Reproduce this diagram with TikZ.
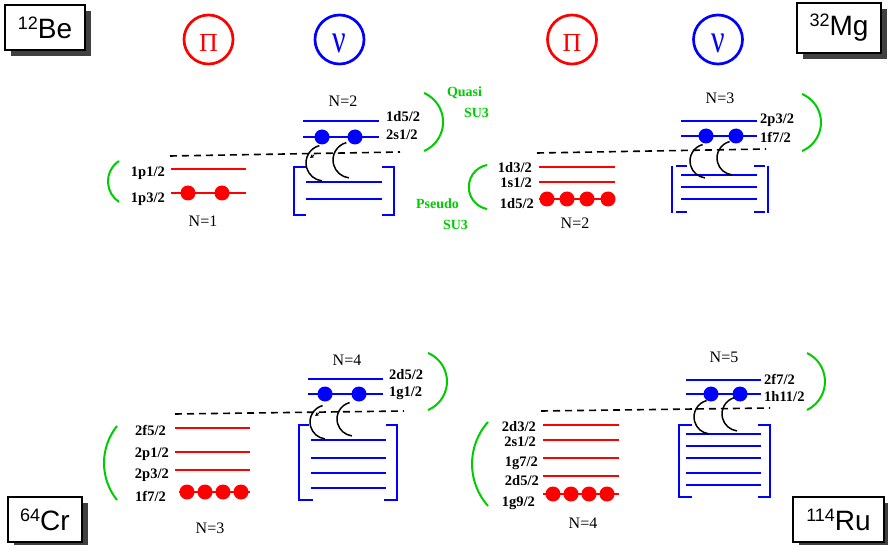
\documentclass[tikz,border=0pt]{standalone}
\usepackage{fontspec}
\setmainfont{Liberation Serif}
\newfontfamily\hv{Liberation Sans}
\usetikzlibrary{shadows,arrows.meta}
\definecolor{grn}{RGB}{0,204,0}
\begin{document}
\begin{tikzpicture}[x=1pt,y=1pt,
  lvlp/.style={draw=red,line width=2},
  lvln/.style={draw=blue,line width=2},
  brk/.style={draw=blue,line width=2},
  grnarc/.style={draw=grn,line width=2},
  jump/.style={draw=black,line width=1.5},
  fermi/.style={draw=black,line width=1.6,dash pattern=on 7pt off 5pt},
  dotp/.style={circle,fill=red,inner sep=0,minimum size=15},
  dotn/.style={circle,fill=blue,inner sep=0,minimum size=15},
  lab/.style={font=\bfseries\fontsize{14.5}{14.5}\selectfont,inner sep=0},
  nl/.style={font=\fontsize{16}{16}\selectfont,inner sep=0},
  gl/.style={font=\bfseries\fontsize{14}{14}\selectfont,text=grn,inner sep=0},
  nuc/.style={draw,line width=1.5,fill=white,font=\hv\fontsize{28}{28}\selectfont,inner sep=0,
     drop shadow={shadow xshift=6pt,shadow yshift=-6pt,fill=black!75,opacity=1}},
  picirc/.style={circle,line width=2.7,minimum size=49,inner sep=0},
  pisym/.style={text=red,font=\fontsize{26}{26}\selectfont,inner sep=0},
  nusym/.style={text=blue,inner sep=0},
  tip/.style={draw=black,line width=1,-{Stealth[length=4pt,width=4pt]}},
]
\useasboundingbox (0,0) rectangle (888,-545);

% ---------- nucleus boxes ----------
\node[nuc,minimum width=80,minimum height=45] (be) at (45,-27.5) {\raisebox{9pt}{\fontsize{18}{18}\selectfont 12}Be};
\node[nuc,minimum width=84,minimum height=50] (mg) at (839,-28) {\raisebox{9pt}{\fontsize{18}{18}\selectfont 32}Mg};
\node[nuc,minimum width=74,minimum height=45] (cr) at (45,-519.5) {\raisebox{9pt}{\fontsize{18}{18}\selectfont 64}Cr};
\node[nuc,minimum width=91,minimum height=45] (ru) at (838.5,-519.5) {\raisebox{9pt}{\fontsize{18}{18}\selectfont 114}Ru};

% ---------- pi / nu circles ----------
\node[picirc,draw=red] (pc1) at (208.5,-39.5) {};
\node[pisym] (pt1) at (208.5,-42.5) {Π};
\node[picirc,draw=blue] (nc1) at (339.5,-39.5) {};
\node[nusym] (nt1) at (339.5,-43) {\scalebox{1}[1.35]{\fontsize{30}{30}\selectfont ν}};
\node[picirc,draw=red] (pc2) at (572,-39.5) {};
\node[pisym] (pt2) at (572,-42.5) {Π};
\node[picirc,draw=blue] (nc2) at (718,-39.5) {};
\node[nusym] (nt2) at (718,-43) {\scalebox{1}[1.35]{\fontsize{30}{30}\selectfont ν}};

% =================== 12Be ===================
\draw[fermi] (170,-156) -- (400,-152);
\draw[lvlp] (171,-169) -- (246,-169);
\draw[lvlp] (171,-193) -- (246,-193);
\node[dotp] (bep1) at (188,-193) {};
\node[dotp] (bep2) at (222,-193) {};
\node[lab,anchor=east] (bel1) at (165,-173) {1p1/2};
\node[lab,anchor=east] (bel2) at (165,-199) {1p3/2};
\node[nl] (ben1) at (203,-221) {N=1};
\draw[grnarc] (119,-161) arc[start angle=123.6,end angle=236.4,radius=24.6];

\draw[lvln] (303,-121) -- (379,-121);
\draw[lvln] (303,-137) -- (379,-137);
\node[dotn] (ben1d) at (322,-137) {};
\node[dotn] (ben2d) at (355,-137) {};
\node[lab,anchor=west] (bel3) at (386,-117) {1d5/2};
\node[lab,anchor=west] (bel4) at (386,-135) {2s1/2};
\node[nl] (ben2) at (343,-101) {N=2};
\draw[grnarc] (424,-93) arc[start angle=66.6,end angle=-66.6,radius=31.6];
\node[gl] (q1) at (464.5,-93) {Quasi};
\node[gl] (q2) at (476.5,-113) {SU3};
\node[gl] (ps1) at (437.5,-204) {Pseudo};
\node[gl] (ps2) at (455.5,-225) {SU3};
\draw[brk] (306,-167) -- (294,-167) -- (294,-215) -- (306,-215);
\draw[brk] (382,-167) -- (394,-167) -- (394,-215) -- (382,-215);
\draw[lvln] (306,-182) -- (382,-182);
\draw[lvln] (306,-199) -- (382,-199);
\draw[jump] ([shift={(105:18)}]324,-163) arc[start angle=105,end angle=263,radius=18];
\draw[jump] ([shift={(105:18)}]351,-160) arc[start angle=105,end angle=263,radius=18];
\draw[tip] (314,-155) -- (310,-158);

% =================== 32Mg ===================
\draw[fermi] (537,-153) -- (766,-149);
\draw[lvlp] (539,-167) -- (615,-167);
\draw[lvlp] (539,-182) -- (615,-182);
\draw[lvlp] (539,-199) -- (615,-199);
\foreach \x [count=\i] in {547,567,587,608} \node[dotp] (mgp\i) at (\x,-199) {};
\node[lab,anchor=east] (mgl1) at (532,-168) {1d3/2};
\node[lab,anchor=east] (mgl2) at (532,-183) {1s1/2};
\node[lab,anchor=east] (mgl3) at (534,-204) {1d5/2};
\node[nl] (mgn1) at (575,-223) {N=2};
\draw[grnarc] (487,-165) arc[start angle=100.8,end angle=259.2,radius=22.4];

\draw[lvln] (681,-121) -- (757,-121);
\draw[lvln] (681,-136) -- (757,-136);
\node[dotn] (mgn1d) at (706,-136) {};
\node[dotn] (mgn2d) at (736,-136) {};
\node[lab,anchor=west] (mgl4) at (760,-120) {2p3/2};
\node[lab,anchor=west] (mgl5) at (760,-137) {1f7/2};
\node[nl] (mgn2) at (720,-98) {N=3};
\draw[grnarc] (802,-94) arc[start angle=67.3,end angle=-67.3,radius=30.9];
\draw[brk] (672,-166) -- (672,-213);
\draw[brk] (768,-166) -- (768,-213);
\draw[brk] (676,-166) -- (687,-166);
\draw[brk] (676,-212) -- (687,-212);
\draw[brk] (754,-166) -- (765,-166);
\draw[brk] (754,-212) -- (765,-212);
\draw[lvln] (681,-175) -- (757,-175);
\draw[lvln] (681,-187) -- (757,-187);
\draw[lvln] (681,-199) -- (757,-199);
\draw[jump] ([shift={(105:17)}]707,-161) arc[start angle=105,end angle=263,radius=17];
\draw[jump] ([shift={(105:17)}]734,-158) arc[start angle=105,end angle=263,radius=17];

% =================== 64Cr ===================
\draw[fermi] (175,-414) -- (404,-411);
\draw[lvlp] (175,-428) -- (250,-428);
\draw[lvlp] (175,-452) -- (250,-452);
\draw[lvlp] (175,-470) -- (250,-470);
\draw[lvlp] (179,-492) -- (250,-492);
\foreach \x [count=\i] in {187,205,223,241} \node[dotp] (crp\i) at (\x,-492) {};
\node[lab,anchor=east] (crl1) at (166,-430) {2f5/2};
\node[lab,anchor=east] (crl2) at (169,-454) {2p1/2};
\node[lab,anchor=east] (crl3) at (169,-475) {2p3/2};
\node[lab,anchor=east] (crl4) at (166,-496) {1f7/2};
\node[nl] (crn1) at (210,-528) {N=3};
\draw[grnarc] (117,-426) arc[start angle=141.3,end angle=218.7,radius=59.2];

\draw[lvln] (308,-379) -- (383,-379);
\draw[lvln] (308,-394) -- (383,-394);
\node[dotn] (crn1d) at (325,-394) {};
\node[dotn] (crn2d) at (359,-394) {};
\node[lab,anchor=west] (crl5) at (389,-375) {2d5/2};
\node[lab,anchor=west] (crl6) at (389,-393) {1g1/2};
\node[nl] (crn2) at (347,-360) {N=4};
\draw[grnarc] (428,-353) arc[start angle=67.3,end angle=-67.3,radius=30.9];
\draw[brk] (309,-425) -- (299,-425) -- (299,-500) -- (313,-500);
\draw[brk] (386,-425) -- (397,-425) -- (397,-500) -- (384,-500);
\foreach \y in {440,458,473,488} \draw[lvln] (311,-\y) -- (386,-\y);
\draw[jump] ([shift={(105:17)}]327,-422) arc[start angle=105,end angle=263,radius=17];
\draw[jump] ([shift={(105:17)}]354,-419) arc[start angle=105,end angle=263,radius=17];
\draw[tip] (319,-413) -- (315,-416);

% =================== 114Ru ===================
\draw[fermi] (541,-411) -- (770,-408);
\foreach \y in {425,440,458,476,494} \draw[lvlp] (543,-\y) -- (619,-\y);
\foreach \x [count=\i] in {553,571,589,607} \node[dotp] (rup\i) at (\x,-494) {};
\node[lab,anchor=east] (rul1) at (536,-427) {2d3/2};
\node[lab,anchor=east] (rul2) at (536,-442) {2s1/2};
\node[lab,anchor=east] (rul3) at (538,-463) {1g7/2};
\node[lab,anchor=east] (rul4) at (539,-481) {2d5/2};
\node[lab,anchor=east] (rul5) at (535,-503) {1g9/2};
\node[nl] (run1) at (583,-523) {N=4};
\draw[grnarc] (488,-422) arc[start angle=138.3,end angle=221.7,radius=63.1];

\draw[lvln] (686,-380) -- (761,-380);
\draw[lvln] (686,-394) -- (761,-394);
\node[dotn] (run1d) at (711,-394) {};
\node[dotn] (run2d) at (740,-394) {};
\node[lab,anchor=west] (rul6) at (764,-379) {2f7/2};
\node[lab,anchor=west] (rul7) at (764,-397) {1h11/2};
\node[nl] (run2) at (724,-357) {N=5};
\draw[grnarc] (807,-353) arc[start angle=64.4,end angle=-64.4,radius=31.6];
\draw[brk] (692,-425) -- (679,-425) -- (679,-497) -- (692,-497);
\draw[brk] (758,-425) -- (770,-425) -- (770,-497) -- (758,-497);
\foreach \y in {434,446,458,473,485} \draw[lvln] (686,-\y) -- (761,-\y);
\draw[jump] ([shift={(105:17)}]711,-417) arc[start angle=105,end angle=263,radius=17];
\draw[jump] ([shift={(105:17)}]739,-414) arc[start angle=105,end angle=263,radius=17];

\end{tikzpicture}
\end{document}
